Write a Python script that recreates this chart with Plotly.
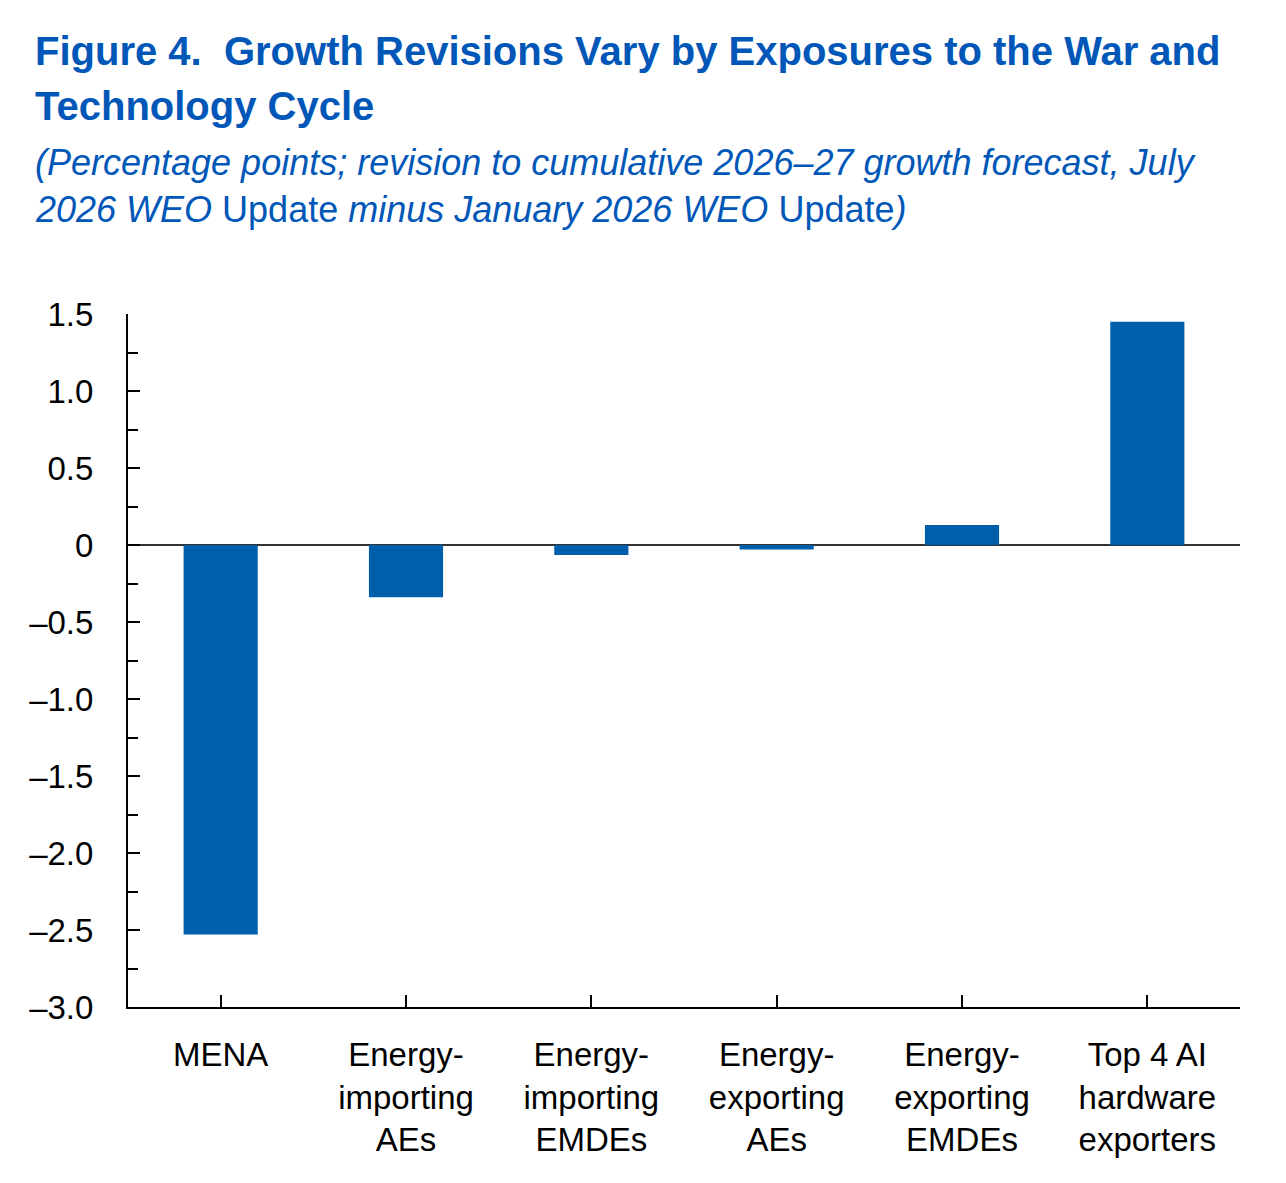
import plotly.graph_objects as go

categories = ["MENA", "Energy-<br>importing<br>AEs", "Energy-<br>importing<br>EMDEs",
              "Energy-<br>exporting<br>AEs", "Energy-<br>exporting<br>EMDEs",
              "Top 4 AI<br>hardware<br>exporters"]
values = [-2.53, -0.34, -0.065, -0.03, 0.13, 1.45]
ytick_vals = [1.5, 1.0, 0.5, 0, -0.5, -1.0, -1.5, -2.0, -2.5, -3.0]
ytick_text = ["1.5", "1.0", "0.5", "0", "–0.5", "–1.0", "–1.5", "–2.0", "–2.5", "–3.0"]

title_lines = ["<b>Figure 4.  Growth Revisions Vary by Exposures to the War and</b>",
               "<b>Technology Cycle</b>"]
subtitle_lines = ["<i>(Percentage points; revision to cumulative 2026–27 growth forecast, July</i>",
                  "<i>2026 WEO</i> Update <i>minus January 2026 WEO</i> Update<i>)</i>"]

FONT = "Liberation Sans Narrow, Arial Narrow, Liberation Sans, Arial, sans-serif"
BLUE_T = "#0057B8"
BAR = "#005FAD"

W, H = 1286, 1183
L, R, T, B = 128, 46, 314, 176
PH = H - T - B

def py(pix):
    return 1 + (T - pix) / PH

def px(pix):
    return (pix - L) / (W - L - R)

fig = go.Figure()
fig.add_trace(go.Bar(x=categories, y=values, marker=dict(color=BAR, line=dict(width=0)),
                     width=0.4))

fig.update_layout(
    width=W, height=H,
    margin=dict(l=L, r=R, t=T, b=B),
    plot_bgcolor="white", paper_bgcolor="white",
    showlegend=False,
    font=dict(family=FONT, color="black"),
    bargap=0.6,
)
fig.update_xaxes(
    showline=True, linecolor="black", linewidth=2,
    ticks="inside", ticklen=12, tickwidth=2, tickcolor="black",
    tickfont=dict(size=33, family=FONT, color="black"),
    ticklabelstandoff=17,
    showgrid=False, zeroline=False,
)
fig.update_yaxes(
    range=[-3.0, 1.5],
    tickvals=ytick_vals, ticktext=ytick_text,
    showline=True, linecolor="black", linewidth=2,
    ticks="inside", ticklen=12, tickwidth=2, tickcolor="black",
    minor=dict(dtick=0.25, tick0=0, ticks="inside", ticklen=10, tickwidth=2, tickcolor="black"),
    tickfont=dict(size=33, family=FONT, color="black"),
    ticklabelstandoff=26,
    showgrid=False,
    zeroline=True, zerolinecolor="#333333", zerolinewidth=1.5,
)

for txt, top in zip(title_lines, [27, 82]):
    fig.add_annotation(
        xref="paper", yref="paper", x=px(33), y=py(top), xanchor="left", yanchor="top",
        align="left", showarrow=False, text=txt,
        font=dict(size=40, family=FONT, color=BLUE_T),
    )
for txt, top in zip(subtitle_lines, [140, 187]):
    fig.add_annotation(
        xref="paper", yref="paper", x=px(33), y=py(top), xanchor="left", yanchor="top",
        align="left", showarrow=False, text=txt,
        font=dict(size=36, family=FONT, color=BLUE_T),
    )

fig.write_html("out.html")
